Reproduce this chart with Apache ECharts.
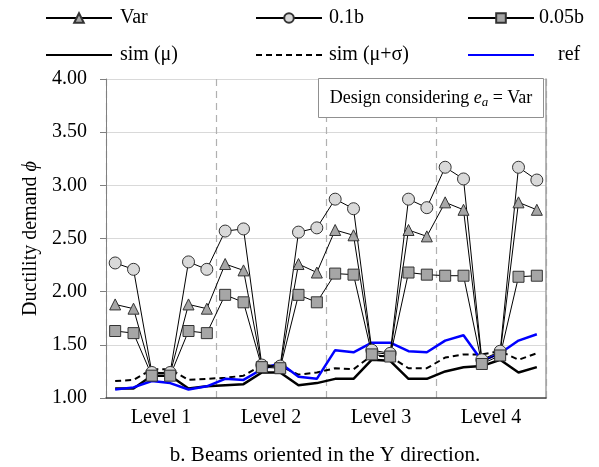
<!DOCTYPE html>
<html>
<head>
    <meta charset="utf-8">
    <title>Ductility demand - beams Y</title>
    <script src="https://cdn.jsdelivr.net/npm/echarts@6/dist/echarts.min.js"></script>
</head>
<body style="margin:0">
    <div id="main" style="width: 599px;height:467px;"></div>
    <script type="text/javascript">

    // 24 beams, 6 per level
    var points = [];
    for (var i = 1; i <= 24; i++) points.push('b' + i);
    var levels = ['Level 1', 'Level 2', 'Level 3', 'Level 4'];

    var varData = [1.88, 1.84, 1.23, 1.23, 1.88, 1.84,
                   2.26, 2.20, 1.30, 1.29, 2.26, 2.18,
                   2.58, 2.53, 1.43, 1.41, 2.58, 2.52,
                   2.84, 2.77, 1.34, 1.42, 2.84, 2.77];
    var b10Data = [2.27, 2.21, 1.24, 1.24, 2.28, 2.21,
                   2.57, 2.59, 1.31, 1.30, 2.56, 2.60,
                   2.87, 2.78, 1.45, 1.42, 2.87, 2.79,
                   3.17, 3.06, 1.36, 1.44, 3.17, 3.05];
    var b05Data = [1.63, 1.61, 1.21, 1.21, 1.63, 1.61,
                   1.97, 1.90, 1.29, 1.28, 1.97, 1.90,
                   2.17, 2.16, 1.41, 1.39, 2.18, 2.16,
                   2.15, 2.15, 1.32, 1.40, 2.14, 2.15];
    var simMu = [1.09, 1.09, 1.21, 1.21, 1.09, 1.11,
                 1.12, 1.13, 1.24, 1.24, 1.12, 1.14,
                 1.18, 1.18, 1.36, 1.35, 1.18, 1.18,
                 1.25, 1.29, 1.30, 1.36, 1.24, 1.29];
    var simMuSig = [1.16, 1.17, 1.27, 1.27, 1.17, 1.18,
                    1.19, 1.21, 1.31, 1.30, 1.22, 1.24,
                    1.28, 1.27, 1.40, 1.39, 1.28, 1.28,
                    1.38, 1.41, 1.41, 1.44, 1.36, 1.42];
    var refData = [1.08, 1.10, 1.16, 1.14, 1.08, 1.11,
                   1.18, 1.17, 1.27, 1.33, 1.20, 1.18,
                   1.45, 1.43, 1.52, 1.52, 1.44, 1.43,
                   1.54, 1.59, 1.35, 1.42, 1.54, 1.60];

    var FONT = 'Liberation Serif';
    var myChart = echarts.init(document.getElementById('main'));

    function legendAt(name, left, top, gap, noMark) {
        var l = {
            data: [name], left: left, top: top, padding: 0,
            itemWidth: 66, itemHeight: 12,
            textStyle: { fontFamily: FONT, fontSize: 20, color: '#000', padding: [0, 0, 0, gap] }
        };
        // plain lines: hide the symbol in the legend icon
        if (noMark) l.itemStyle = { color: 'rgba(0,0,0,0)', borderColor: 'rgba(0,0,0,0)' };
        return l;
    }

    function markerSeries(name, data, symbol, size, fill) {
        return {
            name: name, type: 'line', data: data, z: 5,
            symbol: symbol, symbolSize: size, showAllSymbol: true,
            lineStyle: { color: '#000', width: 1 },
            itemStyle: { color: fill, borderColor: '#333', borderWidth: 1 }
        };
    }

option = {
    animation: false,
    backgroundColor: '#fff',
    textStyle: { fontFamily: FONT },
    legend: [
        legendAt('Var', 45, 8, 3),
        legendAt('0.1b', 255, 8, 2),
        legendAt('0.05b', 467, 8, 0),
        legendAt('sim (μ)', 45, 45, 3, true),
        legendAt('sim (μ+σ)', 255, 45, 2, true),
        legendAt('ref', 467, 45, 19, true)
    ],
    grid: { left: 106, right: 53, top: 79, bottom: 69 },
    xAxis: [
        { type: 'category', data: points, show: false, boundaryGap: true },
        {
            type: 'category', data: levels, position: 'bottom', boundaryGap: true,
            axisLine: { lineStyle: { color: '#404040', width: 1.5 } },
            axisTick: { length: 6, lineStyle: { color: '#404040' } },
            axisLabel: { fontFamily: FONT, fontSize: 20, color: '#000', margin: 10 },
            splitLine: { show: true, lineStyle: { color: '#b0b0b0', type: [7, 5], width: 1.2 } }
        }
    ],
    yAxis: [
        {
            type: 'value', min: 1, max: 4, interval: 0.5,
            name: '{n|Ductility demand }{i|ϕ}', nameLocation: 'middle', nameGap: 62, nameRotate: 90,
            nameTextStyle: {
                rich: {
                    n: { fontFamily: FONT, fontSize: 20, color: '#000' },
                    i: { fontFamily: FONT, fontSize: 20, fontStyle: 'italic', color: '#000' }
                }
            },
            axisLine: { show: true, lineStyle: { color: '#808080' } },
            axisTick: { show: true, length: 6, lineStyle: { color: '#808080' } },
            axisLabel: {
                fontFamily: FONT, fontSize: 20, color: '#000', margin: 19,
                formatter: function (v) { return v.toFixed(2); }
            },
            splitLine: { lineStyle: { color: '#d9d9d9' } }
        },
        {
            type: 'value', min: 1, max: 4, interval: 0.5, position: 'right',
            axisLine: { show: true, lineStyle: { color: '#a0a0a0', width: 1.5 } },
            axisTick: { show: false }, axisLabel: { show: false }, splitLine: { show: false }
        }
    ],
    graphic: [
        {
            type: 'rect', left: 318, top: 78, z: 10,
            shape: { width: 225, height: 39 },
            style: { fill: '#fff', stroke: '#909090', lineWidth: 1 }
        },
        {
            type: 'text', x: 431, y: 98, z: 11,
            style: {
                text: '{n|Design considering }{i|e}{s|a}{n| = Var}',
                align: 'center', verticalAlign: 'middle',
                rich: {
                    n: { fontFamily: FONT, fontSize: 18, fill: '#000', lineHeight: 22 },
                    i: { fontFamily: FONT, fontSize: 18, fontStyle: 'italic', fill: '#000', lineHeight: 22 },
                    s: { fontFamily: FONT, fontSize: 13, fontStyle: 'italic', fill: '#000', lineHeight: 22, padding: [9, 0, 0, 0] }
                }
            }
        },
        {
            type: 'text', x: 325, y: 455,
            style: {
                text: 'b. Beams oriented in the Y direction.',
                fontFamily: FONT, fontSize: 21, fill: '#000',
                align: 'center', verticalAlign: 'middle'
            }
        }
    ],
    series: [
        { name: 'sim (μ)', type: 'line', data: simMu, symbol: 'none', z: 2,
          lineStyle: { color: '#000', width: 2.5 }, itemStyle: { color: '#000' } },
        { name: 'sim (μ+σ)', type: 'line', data: simMuSig, symbol: 'none', z: 2,
          lineStyle: { color: '#000', width: 2, type: [6, 4] }, itemStyle: { color: '#000' } },
        { name: 'ref', type: 'line', data: refData, symbol: 'none', z: 3,
          lineStyle: { color: '#0000ff', width: 2.5 }, itemStyle: { color: '#0000ff' } },
        markerSeries('Var', varData, 'triangle', 11, '#a6a6a6'),
        markerSeries('0.1b', b10Data, 'circle', 12, '#d9d9d9'),
        markerSeries('0.05b', b05Data, 'rect', 11, '#a6a6a6')
    ]
};
    myChart.setOption(option);

    </script>
</body>
</html>
